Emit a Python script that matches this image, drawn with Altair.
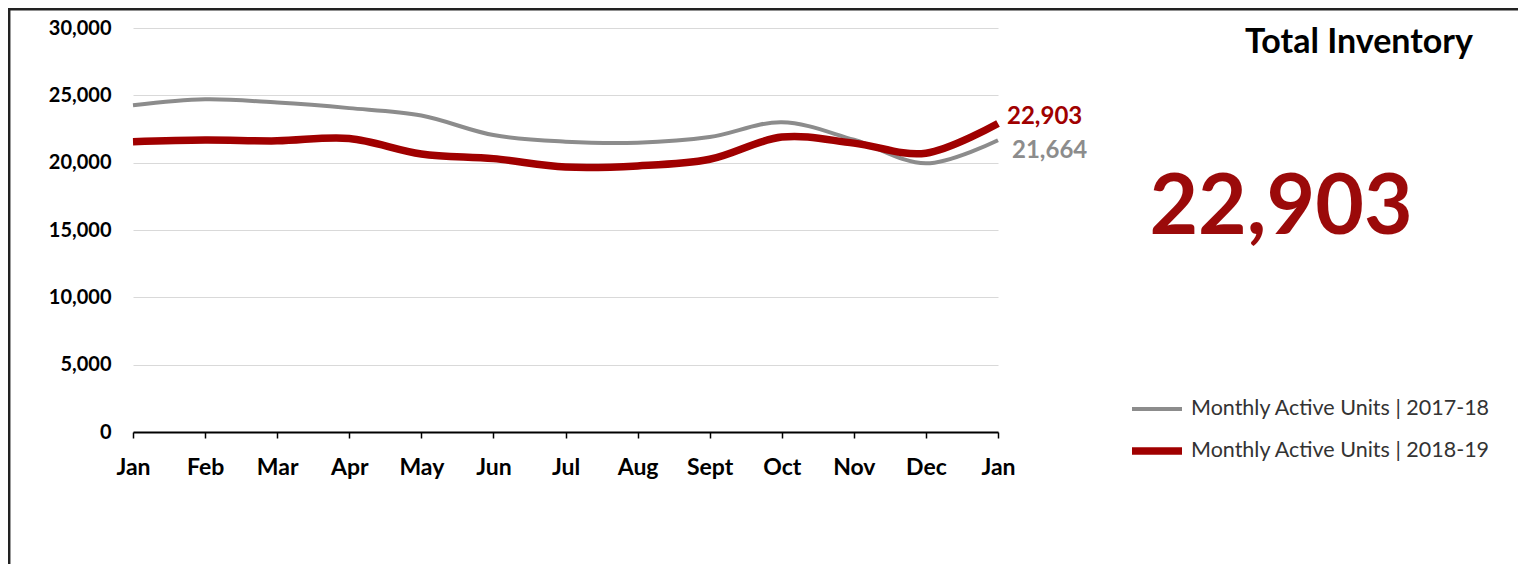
import altair as alt
import pandas as pd

months = ["Jan", "Feb", "Mar", "Apr", "May", "Jun", "Jul", "Aug", "Sept", "Oct", "Nov", "Dec", "Jan"]
series_names = ["Monthly Active Units | 2017-18", "Monthly Active Units | 2018-19"]
units_2017_18 = [24260, 24700, 24460, 24050, 23500, 22050, 21560, 21480, 21900, 23000, 21700, 19950, 21664]
units_2018_19 = [21560, 21680, 21620, 21800, 20650, 20300, 19680, 19760, 20250, 21900, 21450, 20700, 22903]
y_ticks = [0, 5000, 10000, 15000, 20000, 25000, 30000]
title_text = "Total Inventory"

colors = ["#8c8c8c", "#a00000"]

rows = []
for name, vals in zip(series_names, [units_2017_18, units_2018_19]):
    for i, v in enumerate(vals):
        rows.append({"idx": i, "month": months[i], "series": name, "value": v})
df = pd.DataFrame(rows)

label_expr = "[" + ",".join("'" + m + "'" for m in months) + "][datum.value]"

x_enc = alt.X("idx:Q", scale=alt.Scale(domain=[0, len(months) - 1], nice=False, zero=False),
              axis=alt.Axis(values=list(range(len(months))), labelExpr=label_expr, title=None,
                            grid=False, domainColor="#000000", domainWidth=2, tickColor="#000000",
                            tickWidth=1.5, tickSize=6, labelFont="Lato", labelFontWeight="bold",
                            labelFontSize=23, labelColor="#000000", labelPadding=18,
                            labelFlush=False, labelOverlap=False))
y_enc = alt.Y("value:Q", scale=alt.Scale(domain=[0, 30000], nice=False),
              axis=alt.Axis(values=y_ticks, format=",.0f", title=None, domain=False, ticks=False,
                            gridColor="#d9d9d9", gridWidth=1, labelFont="Lato", labelFontWeight="bold",
                            labelFontSize=20, labelColor="#000000", labelPadding=22))

base = alt.Chart(df)

lines = base.mark_line(interpolate="cardinal", strokeCap="butt").encode(
    x=x_enc,
    y=y_enc,
    color=alt.Color("series:N", scale=alt.Scale(domain=series_names, range=colors),
                    legend=alt.Legend(title=None)),
    strokeWidth=alt.StrokeWidth("series:N", scale=alt.Scale(domain=series_names, range=[4, 7.5]),
                                legend=alt.Legend(title=None)),
    order=alt.Order("idx:Q"),
)

last = base.transform_filter(alt.datum.idx == len(months) - 1)

lbl_red = last.transform_filter(alt.datum.series == series_names[1]).mark_text(
    align="left", baseline="middle", dx=9, dy=-7, font="Lato", fontWeight="bold", fontSize=24,
    color="#a00000").encode(x="idx:Q", y="value:Q", text=alt.Text("value:Q", format=",.0f"))

lbl_gray = last.transform_filter(alt.datum.series == series_names[0]).mark_text(
    align="left", baseline="middle", dx=14, dy=11, font="Lato", fontWeight="bold", fontSize=24,
    color="#8c8c8c").encode(x="idx:Q", y="value:Q", text=alt.Text("value:Q", format=",.0f"))

big = last.transform_filter(alt.datum.series == series_names[1]).mark_text(
    align="center", baseline="middle", font="Lato", fontWeight="bold", fontSize=84,
    color="#9b0a0a").encode(x=alt.value(1148), y=alt.value(181), text=alt.Text("value:Q", format=",.0f"))

title = alt.Chart(pd.DataFrame({"t": [title_text]})).mark_text(
    align="center", baseline="middle", font="Lato", fontWeight="bold", fontSize=34,
    color="#000000").encode(x=alt.value(1226), y=alt.value(15), text="t:N")

frame_left = alt.Chart(pd.DataFrame({"k": [0]})).mark_rule(color="#222222", strokeWidth=2.5).encode(
    x=alt.value(-123.8), y=alt.value(-20), y2=alt.value(536))
frame_top = alt.Chart(pd.DataFrame({"k": [0]})).mark_rule(color="#222222", strokeWidth=2.5).encode(
    x=alt.value(-125), x2=alt.value(1385), y=alt.value(-18.8))

chart = alt.layer(lines, lbl_red, lbl_gray, big, title, frame_left, frame_top).properties(
    width=865, height=404, autosize="none",
    padding={"left": 125, "top": 20, "right": 520, "bottom": 132},
).configure_view(stroke=None).configure_legend(
    orient="none", legendX=995, legendY=354, symbolType="stroke", symbolSize=2500,
    labelFont="Lato", labelFontSize=21.5, labelColor="#333333", padding=0, rowPadding=2,
    labelOffset=5, labelLimit=400,
)

chart.save("out.html", embed_options={"renderer": "svg", "actions": False})
